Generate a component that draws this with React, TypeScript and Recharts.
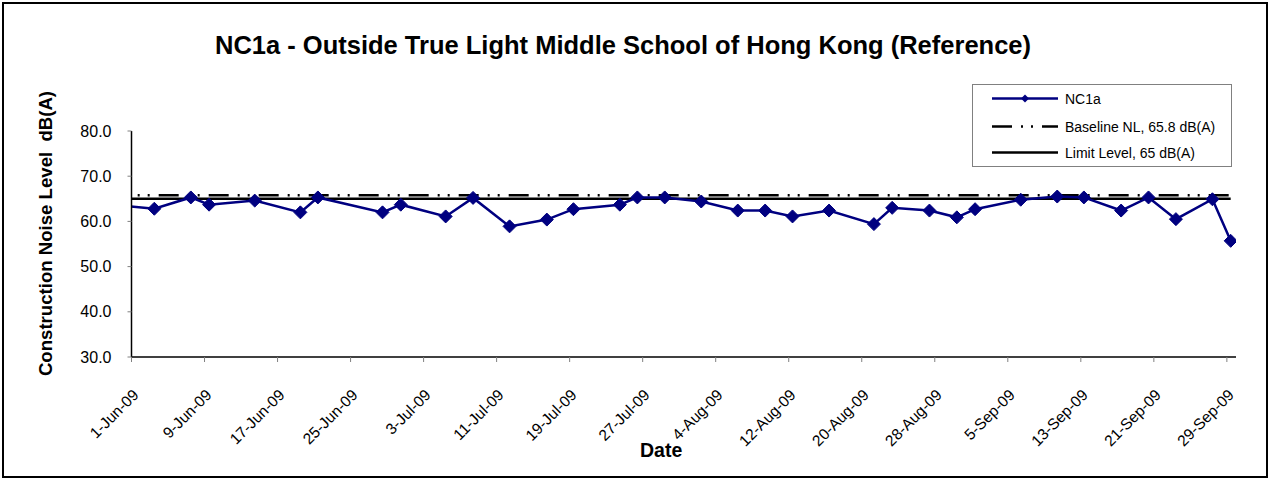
import React from 'react';
import { LineChart, Line, XAxis, YAxis, Legend } from 'recharts';

const FONT = '"Liberation Sans", Arial, sans-serif';
const NAVY = '#000080';

// measurement times (UTC) and levels, dB(A)
const DATES = [
  '2009-05-29T12:00', '2009-06-03T12:00', '2009-06-07T12:00', '2009-06-09T12:00',
  '2009-06-14T12:00', '2009-06-19T12:00', '2009-06-21T10:00', '2009-06-28T12:00',
  '2009-06-30T12:00', '2009-07-05T10:00', '2009-07-08T10:00', '2009-07-12T10:00',
  '2009-07-16T12:00', '2009-07-19T10:00', '2009-07-24T12:00', '2009-07-26T10:00',
  '2009-07-29T10:00', '2009-08-02T10:00', '2009-08-06T10:00', '2009-08-09T10:00',
  '2009-08-12T10:00', '2009-08-16T10:00', '2009-08-21T08:00', '2009-08-23T08:00',
  '2009-08-27T10:00', '2009-08-30T10:00', '2009-09-01T10:00', '2009-09-06T10:00',
  '2009-09-10T10:00', '2009-09-13T08:00', '2009-09-17T10:00', '2009-09-20T10:00',
  '2009-09-23T10:00', '2009-09-27T10:00', '2009-09-29T10:00',
];
const NC1A = [
  63.8, 62.8, 65.3, 63.7,
  64.6, 62.0, 65.3, 62.0,
  63.7, 61.1, 65.2, 58.9,
  60.4, 62.7, 63.7, 65.3,
  65.3, 64.4, 62.4, 62.4,
  61.1, 62.4, 59.4, 63.0,
  62.4, 60.9, 62.7, 64.8,
  65.5, 65.3, 62.4, 65.3,
  60.5, 64.9, 55.7,
];
const BASELINE_NL = 65.8;
const LIMIT_LEVEL = 65;

const X_START = '2009-06-01';
const X_END = '2009-09-30';
const TICK_DATES = [
  '2009-06-01', '2009-06-09', '2009-06-17', '2009-06-25', '2009-07-03', '2009-07-11',
  '2009-07-19', '2009-07-27', '2009-08-04', '2009-08-12', '2009-08-20', '2009-08-28',
  '2009-09-05', '2009-09-13', '2009-09-21', '2009-09-29',
];
const Y_TICKS = [30, 40, 50, 60, 70, 80];
const MONTHS = ['Jan', 'Feb', 'Mar', 'Apr', 'May', 'Jun', 'Jul', 'Aug', 'Sep', 'Oct', 'Nov', 'Dec'];

const toTime = (s: string) => Date.parse(s.length > 10 ? s + 'Z' : s);

const data = DATES.map((d, i) => ({
  t: toTime(d),
  nc1a: NC1A[i],
  baseline: BASELINE_NL,
  limit: LIMIT_LEVEL,
}));

const fmtDate = (v: number) => {
  const d = new Date(v);
  return `${d.getUTCDate()}-${MONTHS[d.getUTCMonth()]}-${String(d.getUTCFullYear()).slice(2)}`;
};

const BASE_DASH = '20 9 2 8 2 9';

const Diamond = (props: any) => {
  const { cx, cy } = props;
  if (cx == null || cy == null) return null;
  const r = 6.5;
  return (
    <polygon
      points={`${cx},${cy - r} ${cx + r},${cy} ${cx},${cy + r} ${cx - r},${cy}`}
      fill={NAVY}
      stroke={NAVY}
    />
  );
};

const DateTick = (props: any) => {
  const { x, y, payload } = props;
  const ax = x + 8;
  const ay = y + 32;
  return (
    <text
      x={ax}
      y={ay}
      transform={`rotate(-45, ${ax}, ${ay})`}
      textAnchor="end"
      fontSize={15.5}
      fontFamily={FONT}
      fill="#000"
    >
      {fmtDate(payload.value)}
    </text>
  );
};

const LegendBox = () => (
  <div style={{ width: 260, height: 83, border: '1px solid #808080', background: '#fff', boxSizing: 'border-box' }}>
    <svg width={258} height={81} style={{ display: 'block', fontFamily: FONT }}>
      {/* NC1a */}
      <line x1={19} x2={85} y1={13.5} y2={13.5} stroke={NAVY} strokeWidth={2.5} />
      <polygon points="52,9.5 56,13.5 52,17.5 48,13.5" fill={NAVY} />
      <text x={92} y={18.5} fontSize={14}>NC1a</text>
      {/* baseline */}
      <line x1={19} x2={85} y1={41.5} y2={41.5} stroke="#000" strokeWidth={2.5} strokeDasharray={BASE_DASH} />
      <text x={92} y={46.5} fontSize={14}>Baseline NL, 65.8 dB(A)</text>
      {/* limit */}
      <line x1={19} x2={85} y1={67.5} y2={67.5} stroke="#000" strokeWidth={2.5} />
      <text x={92} y={72.5} fontSize={14}>Limit Level, 65 dB(A)</text>
    </svg>
  </div>
);

export default function App() {
  return (
    <div style={{ position: 'absolute', left: 0, top: 0, width: 1271, height: 480, background: '#fff', fontFamily: FONT }}>
      <div
        style={{
          position: 'absolute', left: 2, top: 2, width: 1266, height: 476,
          border: '2px solid #000', boxSizing: 'border-box',
        }}
      />
      <div
        style={{
          position: 'absolute', left: 0, top: 31, width: 1246, textAlign: 'center',
          fontWeight: 'bold', fontSize: 25.5, color: '#000', whiteSpace: 'nowrap',
        }}
      >
        NC1a - Outside True Light Middle School of Hong Kong (Reference)
      </div>
      <div
        style={{
          position: 'absolute', left: 640, top: 439, fontWeight: 'bold', fontSize: 19.5, color: '#000',
        }}
      >
        Date
      </div>
      <div style={{ position: 'absolute', left: 0, top: 0 }}>
        <LineChart width={1271} height={480} data={data} margin={{ top: 131, right: 35, bottom: 0, left: 0 }}>
          <XAxis
            dataKey="t"
            type="number"
            scale="time"
            domain={[toTime(X_START), toTime(X_END)]}
            allowDataOverflow
            ticks={TICK_DATES.map(toTime)}
            tick={<DateTick />}
            height={123}
            tickSize={5}
            axisLine={{ stroke: '#000', strokeWidth: 1.5 }}
            tickLine={{ stroke: '#808080' }}
            interval={0}
          />
          <YAxis
            domain={[30, 80]}
            ticks={Y_TICKS}
            width={131.5}
            tickSize={4}
            tickMargin={16}
            tickFormatter={(v: number) => v.toFixed(1)}
            tick={{ fontSize: 16, fill: '#000', fontFamily: FONT }}
            axisLine={{ stroke: '#000', strokeWidth: 1.5 }}
            tickLine={{ stroke: '#808080' }}
            allowDataOverflow
            label={{
              content: () => (
                <text
                  x={45}
                  y={233.5}
                  transform="rotate(-90, 45, 233.5)"
                  textAnchor="middle"
                  dominantBaseline="central"
                  fontSize={18.6}
                  fontWeight="bold"
                  fontFamily={FONT}
                  fill="#000"
                  style={{ whiteSpace: 'pre' }}
                >
                  {'Construction Noise Level  dB(A)'}
                </text>
              ),
            }}
          />
          <Legend
            layout="vertical"
            align="center"
            verticalAlign="middle"
            wrapperStyle={{ left: 972, top: 84, width: 260 }}
            content={<LegendBox />}
          />
          <Line
            dataKey="baseline"
            stroke="#000"
            strokeWidth={2.5}
            strokeDasharray={BASE_DASH}
            dot={false}
            activeDot={false}
            isAnimationActive={false}
          />
          <Line
            dataKey="limit"
            stroke="#000"
            strokeWidth={2.5}
            dot={false}
            activeDot={false}
            isAnimationActive={false}
          />
          <Line
            dataKey="nc1a"
            stroke={NAVY}
            strokeWidth={2.5}
            dot={<Diamond />}
            activeDot={false}
            isAnimationActive={false}
          />
        </LineChart>
      </div>
    </div>
  );
}
